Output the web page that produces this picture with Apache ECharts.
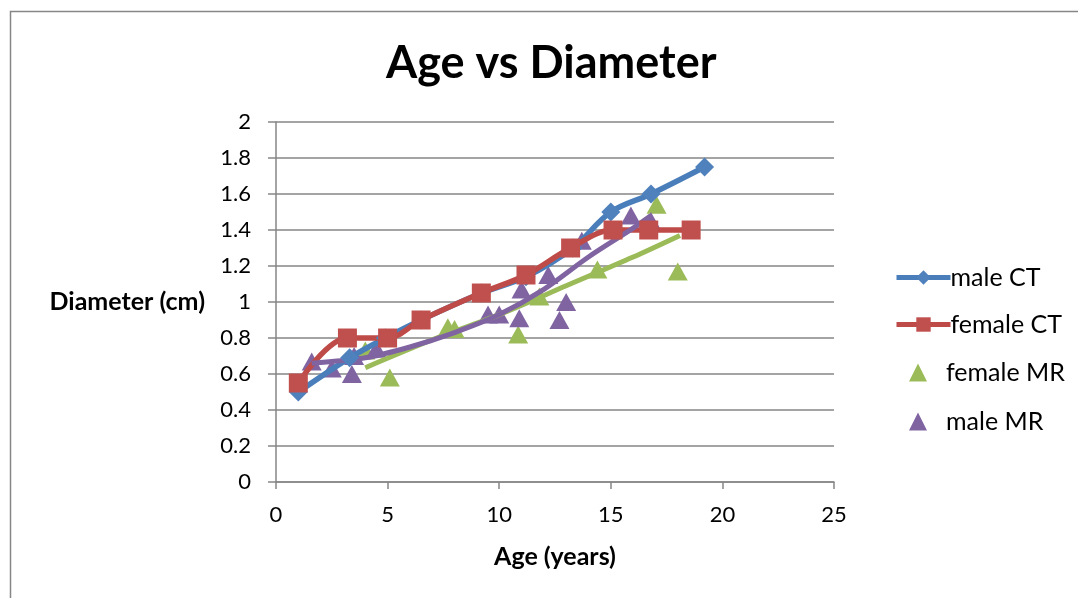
<!DOCTYPE html>
<html>
<head>
<meta charset="utf-8">
<script src="https://cdn.jsdelivr.net/npm/echarts@6/dist/echarts.min.js"></script>
<style>
html,body{margin:0;padding:0;background:#ffffff;}
#chart{width:1078px;height:598px;}
</style>
</head>
<body>
<div id="chart"></div>
<script>
// ---- text ----
const chartTitle = 'Age vs Diameter';
const xAxisName = 'Age (years)';
const yAxisName = 'Diameter (cm)';
const seriesNames = ['male CT', 'female CT', 'female MR', 'male MR'];

// ---- axis ticks ----
const xMin = 0, xMax = 25, xStep = 5;
const yMin = 0, yMax = 2, yStep = 0.2;

// ---- data ----
const maleCT_age  = [1.0, 3.3, 4.9, 6.5, 9.2, 11.2, 13.3, 15.0, 16.8, 19.2];
const maleCT_diam = [0.50, 0.69, 0.80, 0.90, 1.05, 1.14, 1.30, 1.50, 1.60, 1.75];

const femaleCT_age  = [1.0, 3.2, 5.0, 6.5, 9.2, 11.2, 13.2, 15.1, 16.7, 18.6];
const femaleCT_diam = [0.55, 0.80, 0.80, 0.90, 1.05, 1.15, 1.30, 1.40, 1.40, 1.40];

const femaleMR_age  = [4.0, 5.1, 7.7, 8.0, 10.85, 11.8, 14.4, 17.05, 18.0];
const femaleMR_diam = [0.73, 0.58, 0.86, 0.85, 0.82, 1.03, 1.18, 1.54, 1.17];

const maleMR_age  = [1.6, 2.5, 3.4, 3.5, 4.5, 9.5, 10.0, 10.9, 11.0, 12.2, 12.7, 13.0, 13.7, 15.9, 16.8];
const maleMR_diam = [0.67, 0.63, 0.60, 0.70, 0.74, 0.93, 0.93, 0.91, 1.07, 1.15, 0.90, 1.00, 1.34, 1.48, 1.45];

// trendlines as drawn in the picture
const femaleMRTrend_age  = [4.0, 7.0, 10.0, 13.0, 16.0, 18.1];
const femaleMRTrend_diam = [0.635, 0.79, 0.93, 1.09, 1.25, 1.37];

const maleMRTrend_age  = [1.6, 4.0, 6.0, 8.0, 10.0, 12.0, 14.0, 16.0, 16.8];
const maleMRTrend_diam = [0.66, 0.69, 0.75, 0.83, 0.93, 1.07, 1.25, 1.41, 1.48];

// ---- colours ----
const colors = {
  blue: '#4F81BD', blueLine: '#4A7EBB',
  red: '#C0504D', redLine: '#BE4B48',
  green: '#9BBB59', purple: '#8064A2'
};
const gridGray = '#868686';
const FONT = 'Lato';

function zip(xs, ys) { return xs.map((x, i) => [x, ys[i]]); }

const chart = echarts.init(document.getElementById('chart'), null, { renderer: 'canvas' });

const legendText = { fontFamily: FONT, fontSize: 25, color: '#000000' };

const option = {
  backgroundColor: '#ffffff',
  animation: false,
  title: {
    text: chartTitle,
    left: 386,
    top: 41,
    padding: 0,
    textStyle: { fontFamily: FONT, fontWeight: 'bold', fontSize: 45, color: '#000000' }
  },
  graphic: [{
    type: 'rect',
    silent: true,
    shape: { x: 10.5, y: 11.5, width: 1200, height: 800 },
    style: { fill: 'none', stroke: gridGray, lineWidth: 1.5 }
  }],
  legend: [
    {
      orient: 'vertical',
      left: 889,
      top: 260,
      itemWidth: 54,
      itemHeight: 18,
      itemGap: 22,
      data: [seriesNames[0], seriesNames[1]],
      lineStyle: { width: 5 },
      textStyle: Object.assign({ padding: [0, 0, 0, -5] }, legendText)
    },
    {
      orient: 'vertical',
      left: 904,
      top: 355,
      itemWidth: 18,
      itemHeight: 18,
      itemGap: 24,
      data: [seriesNames[2], seriesNames[3]],
      textStyle: Object.assign({ padding: [0, 0, 0, 14] }, legendText)
    }
  ],
  grid: { left: 276, right: 244, top: 122, bottom: 116, containLabel: false },
  xAxis: {
    type: 'value',
    min: xMin, max: xMax, interval: xStep,
    name: xAxisName,
    nameLocation: 'middle',
    nameGap: 62,
    nameTextStyle: { fontFamily: FONT, fontWeight: 'bold', fontSize: 25, color: '#000000' },
    axisLine: { show: true, onZero: false, lineStyle: { color: gridGray, width: 1.5 } },
    axisTick: { show: true, inside: false, length: 7, lineStyle: { color: gridGray, width: 1.5 } },
    axisLabel: { margin: 22, fontFamily: FONT, fontSize: 22, color: '#000000' },
    splitLine: { show: false }
  },
  yAxis: {
    type: 'value',
    min: yMin, max: yMax, interval: yStep,
    name: yAxisName,
    nameLocation: 'middle',
    nameRotate: 0,
    nameGap: 71,
    nameTextStyle: { fontFamily: FONT, fontWeight: 'bold', fontSize: 25, color: '#000000' },
    axisLine: { show: true, onZero: false, lineStyle: { color: gridGray, width: 1.5 } },
    axisTick: { show: true, inside: false, length: 8, lineStyle: { color: gridGray, width: 1.5 } },
    axisLabel: { margin: 25, fontFamily: FONT, fontSize: 22, color: '#000000' },
    splitLine: { show: true, lineStyle: { color: gridGray, width: 1.5 } }
  },
  series: [
    {
      name: seriesNames[0], type: 'line', data: zip(maleCT_age, maleCT_diam),
      smooth: 0.35, symbol: 'diamond', symbolSize: 19,
      itemStyle: { color: colors.blue },
      lineStyle: { color: colors.blueLine, width: 5.5 },
      emphasis: { disabled: true }
    },
    {
      name: seriesNames[1], type: 'line', data: zip(femaleCT_age, femaleCT_diam),
      smooth: 0.35, symbol: 'rect', symbolSize: 19,
      itemStyle: { color: colors.red },
      lineStyle: { color: colors.redLine, width: 5.5 },
      emphasis: { disabled: true }
    },
    {
      name: seriesNames[2], type: 'scatter', data: zip(femaleMR_age, femaleMR_diam),
      symbol: 'triangle', symbolSize: [20, 18],
      itemStyle: { color: colors.green, opacity: 1 },
      emphasis: { disabled: true }
    },
    {
      name: seriesNames[3], type: 'scatter', data: zip(maleMR_age, maleMR_diam),
      symbol: 'triangle', symbolSize: [20, 18],
      itemStyle: { color: colors.purple, opacity: 1 },
      emphasis: { disabled: true }
    },
    {
      name: 'trend female MR', type: 'line', data: zip(femaleMRTrend_age, femaleMRTrend_diam),
      smooth: 0.3, showSymbol: false, symbol: 'none', silent: true,
      lineStyle: { color: colors.green, width: 5 }
    },
    {
      name: 'trend male MR', type: 'line', data: zip(maleMRTrend_age, maleMRTrend_diam),
      smooth: 0.3, showSymbol: false, symbol: 'none', silent: true,
      lineStyle: { color: colors.purple, width: 5 }
    }
  ]
};

chart.setOption(option);
</script>
</body>
</html>
